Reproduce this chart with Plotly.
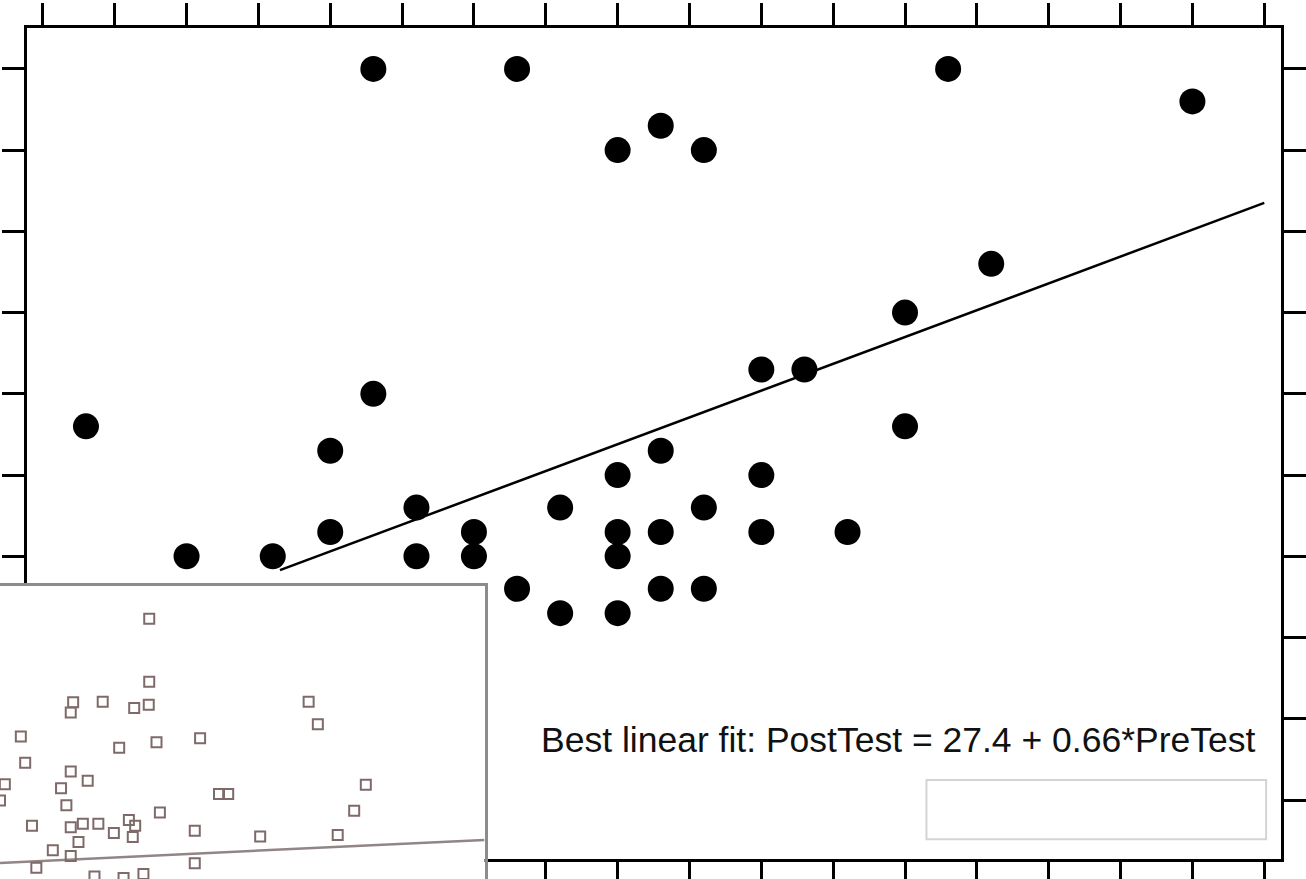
import plotly.graph_objects as go

# ---------------- main scatter data (PreTest vs PostTest, %) ----------------
pre_test = [3, 10, 16, 20, 20, 23, 23, 26, 26, 30, 30, 33, 33, 36, 36,
            40, 40, 40, 40, 40, 43, 43, 43, 43, 46, 46, 46, 50, 50, 50,
            53, 56, 60, 60, 63, 66, 80]
post_test = [56, 40, 40, 53, 43, 100, 60, 46, 40, 43, 40, 100, 36, 46, 33,
             90, 50, 43, 40, 33, 93, 53, 43, 36, 90, 46, 36, 63, 50, 43,
             63, 43, 70, 56, 100, 76, 96]

fit_intercept = 27.4
fit_slope = 0.66
fit_x = [16.5, 85]
fit_label = "Best linear fit: PostTest = 27.4 + 0.66*PreTest"

# ---------------- inset scatter data ----------------
inset_x = [30.8, 30.8, 15.1, 14.6, 21.2, 27.7, 30.7, 63.7, 65.6, 4.3, 24.6,
           32.3, 41.3, 5.2, 1.0, 0.0, 14.6, 18.1, 12.6, 13.7, 75.5, 45.2,
           47.1, 73.1, 33.0, 6.6, 14.6, 17.1, 20.3, 23.5, 26.6, 27.9, 27.4,
           40.2, 53.7, 69.7, 16.2, 10.9, 14.6, 7.5, 40.2, 19.5, 25.5, 29.6]
inset_y = [93.3, 80.4, 76.2, 74.1, 76.3, 75.0, 75.7, 76.3, 71.7, 69.2, 66.9,
           68.0, 68.8, 63.8, 59.4, 56.1, 62.0, 60.1, 58.6, 55.1, 59.3, 57.4,
           57.4, 54.0, 53.6, 50.9, 50.6, 51.3, 51.3, 49.4, 52.1, 50.9, 48.6,
           49.9, 48.7, 49.0, 47.6, 45.9, 44.7, 42.3, 43.2, 40.5, 40.2, 41.0]
inset_fit_intercept = 43.3
inset_fit_slope = 0.047
inset_fit_x = [0, 100]

W = 1306
H = 920          # figure taller than the 879 px window; bottom is cut off like the reference
PAGE_H = 879

def py(page_y):
    """page pixel (from top) -> paper fraction"""
    return (H - page_y) / H

fig = go.Figure()

fig.add_trace(go.Scatter(
    x=pre_test, y=post_test, mode="markers",
    marker=dict(symbol="circle", size=26, color="black"),
    xaxis="x", yaxis="y", showlegend=False, hoverinfo="skip"))

fig.add_trace(go.Scatter(
    x=fit_x, y=[fit_intercept + fit_slope * v for v in fit_x], mode="lines",
    line=dict(color="black", width=2.5),
    xaxis="x", yaxis="y", showlegend=False, hoverinfo="skip"))

fig.add_trace(go.Scatter(
    x=inset_fit_x, y=[inset_fit_intercept + inset_fit_slope * v for v in inset_fit_x],
    mode="lines", line=dict(color="#918585", width=2.5),
    xaxis="x2", yaxis="y2", showlegend=False, hoverinfo="skip"))

fig.add_trace(go.Scatter(
    x=inset_x, y=inset_y, mode="markers",
    marker=dict(symbol="square-open", size=10, color="#7f6a6a",
                line=dict(width=2, color="#7f6a6a")),
    xaxis="x2", yaxis="y2", showlegend=False, hoverinfo="skip"))

axis_common = dict(showgrid=False, zeroline=False, showticklabels=False,
                   showline=True, linecolor="black", linewidth=2.5,
                   ticks="outside", ticklen=22, tickwidth=2.5,
                   tickcolor="black", mirror="ticks")

# inset y range chosen so that 294 px (585 -> 879) spans 60 units
inset_px_per_unit = (PAGE_H - 586) / 60.0
inset_ymin = 40 - (H - PAGE_H) / inset_px_per_unit

fig.update_layout(
    width=W, height=H,
    margin=dict(l=0, r=0, t=0, b=0),
    paper_bgcolor="white", plot_bgcolor="white",
    xaxis=dict(domain=[26.7 / W, 1285 / W], range=[-1.13, 86.17],
               tick0=0, dtick=5, **axis_common),
    yaxis=dict(domain=[py(859), py(27.7)], range=[2.74, 105.07],
               tick0=0, dtick=10, **axis_common),
    xaxis2=dict(domain=[0, 486 / W], range=[0, 100], anchor="y2", side="top",
                showgrid=False, zeroline=False, showticklabels=False,
                ticks="", showline=True, linecolor="#8c8c8c", linewidth=3),
    yaxis2=dict(domain=[0, py(586)], range=[inset_ymin, 100], anchor="x2",
                side="right", showgrid=False, zeroline=False,
                showticklabels=False, ticks="", showline=True,
                linecolor="#8c8c8c", linewidth=3),
    annotations=[dict(text=fit_label, xref="paper", yref="paper",
                      x=1261 / W, y=py(740), xanchor="right",
                      yanchor="middle", showarrow=False,
                      font=dict(family="Liberation Sans, Arial, sans-serif",
                                size=35.5, color="#111111"))],
    shapes=[dict(type="rect", xref="paper", yref="paper",
                 x0=929.3 / W, x1=1270 / W, y0=py(839.3), y1=py(780),
                 line=dict(color="#d4d4d4", width=2), fillcolor="rgba(0,0,0,0)")],
)

fig.write_html(
    "out.html",
    config={"displayModeBar": False},
    post_script="document.body.style.margin='0';document.body.style.overflow='hidden';",
)
